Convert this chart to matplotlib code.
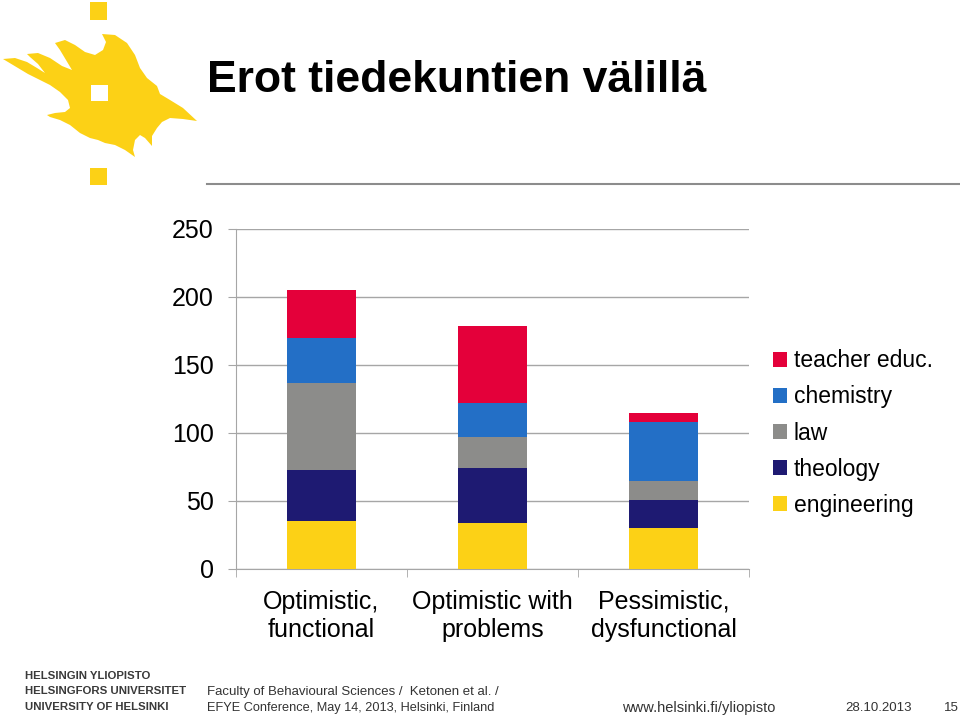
import matplotlib
matplotlib.use('Agg')
import matplotlib.pyplot as plt
from matplotlib.patches import Polygon, Rectangle
from matplotlib.lines import Line2D
import numpy as np

plt.rcParams['font.family'] = ['Liberation Sans', 'DejaVu Sans']

# data
categories = ['Optimistic,\nfunctional', 'Optimistic with\nproblems', 'Pessimistic,\ndysfunctional']
series = ['engineering', 'theology', 'law', 'chemistry', 'teacher educ.']
engineering = [35, 34, 30]
theology = [38, 40, 21]
law = [64, 23, 14]
chemistry = [33, 25, 43]
teacher = [35, 57, 7]
colors = ['#fcd116', '#1e1a72', '#8c8c8a', '#236fc6', '#e4003a']
yticks = [0, 50, 100, 150, 200, 250]

W, H = 960, 716
fig = plt.figure(figsize=(W / 100, H / 100), dpi=100)


def fx(px):
    return px / W


def fy(py):
    return 1 - py / H


ax = fig.add_axes([fx(236), fy(569), fx(749) - fx(236), fy(229) - fy(569)])

x = np.arange(len(categories))
bottom = np.zeros(len(categories))
for vals, col, name in zip([engineering, theology, law, chemistry, teacher], colors, series):
    ax.bar(x, vals, 0.4, bottom=bottom, color=col, label=name, zorder=3)
    bottom += np.array(vals)

ax.set_xlim(-0.5, 2.5)
ax.set_ylim(0, 250)
ax.set_yticks(yticks)
ax.set_yticklabels([str(t) for t in yticks], fontsize=18)
ax.yaxis.grid(True, color='#a6a6a6', linewidth=1, zorder=0)
ax.set_axisbelow(True)
for s in ['top', 'right']:
    ax.spines[s].set_visible(False)
for s in ['left', 'bottom']:
    ax.spines[s].set_color('#a6a6a6')
ax.tick_params(axis='y', length=6, color='#a6a6a6', pad=10)

ax.set_xticks(x)
ax.set_xticklabels(categories, fontsize=18, linespacing=1.22)
ax.set_xticks([-0.5, 0.5, 1.5, 2.5], minor=True)
ax.tick_params(axis='x', which='major', length=0, pad=15)
ax.tick_params(axis='x', which='minor', length=6, color='#a6a6a6')

handles, labels = ax.get_legend_handles_labels()
leg = ax.legend(handles[::-1], labels[::-1], loc='center left',
                bbox_to_anchor=(1.047, 0.40), frameon=False, fontsize=16.5,
                handlelength=0.6, handleheight=0.6, handletextpad=0.3,
                labelspacing=0.57, borderpad=0, borderaxespad=0)

# title and rule
fig.text(fx(207), fy(80), 'Erot tiedekuntien välillä', fontsize=32,
         fontweight='bold', va='center', ha='left')
fig.add_artist(Line2D([fx(207), 1.0], [fy(184), fy(184)], color='#8c8c8c', linewidth=1.5))

# logo (rough flame)
flame = [(3, 59), (15, 58), (27, 62), (37, 68), (45, 73), (38, 64), (30, 57), (27, 54),
         (38, 53), (50, 58), (62, 66), (72, 70), (66, 60), (60, 50), (55, 43), (65, 40),
         (75, 45), (85, 52), (95, 55), (103, 50), (106, 42), (102, 34), (115, 35),
         (127, 43), (135, 55), (140, 68), (147, 78), (157, 86), (160, 94), (170, 100),
         (183, 108), (197, 121), (183, 119), (170, 118), (162, 122), (157, 128),
         (152, 136), (152, 146), (145, 138), (140, 135), (135, 140), (133, 150),
         (135, 157), (125, 150), (115, 145), (105, 143), (98, 140), (90, 138), (80, 133),
         (70, 125), (60, 120), (50, 117), (47, 115), (55, 113), (65, 112), (70, 108),
         (68, 100), (60, 92), (50, 85), (40, 80), (28, 74), (18, 68), (8, 62)]
yel = '#fcd116'
fig.add_artist(Polygon([(fx(a), fy(b)) for a, b in flame], closed=True,
                       facecolor=yel, edgecolor='none', transform=fig.transFigure))
for (x0, y0, x1, y1, c) in [(90, 2, 107, 20, yel), (90, 168, 107, 185, yel), (91, 85, 108, 101, 'white')]:
    fig.add_artist(Rectangle((fx(x0), fy(y1)), fx(x1) - fx(x0), fy(y0) - fy(y1),
                             facecolor=c, edgecolor='none', transform=fig.transFigure))

# footer
for i, t in enumerate(['HELSINGIN YLIOPISTO', 'HELSINGFORS UNIVERSITET', 'UNIVERSITY OF HELSINKI']):
    fig.text(fx(25), fy(676 + i * 15.5), t, fontsize=8.2, fontweight='bold',
             color='#3a3a3a', va='center', ha='left')
fig.text(fx(207), fy(692), 'Faculty of Behavioural Sciences /  Ketonen et al. /',
         fontsize=9.5, color='#333333', va='center')
fig.text(fx(207), fy(708), 'EFYE Conference, May 14, 2013, Helsinki, Finland',
         fontsize=9.2, color='#333333', va='center')
fig.text(fx(622), fy(708), 'www.helsinki.fi/yliopisto', fontsize=10.5, color='#333333', va='center')
fig.text(fx(845), fy(708), '28.10.2013', fontsize=9.5, color='#333333', va='center')
fig.text(fx(944), fy(708), '15', fontsize=9.5, color='#333333', va='center')

fig.savefig('out.png', dpi=100)
